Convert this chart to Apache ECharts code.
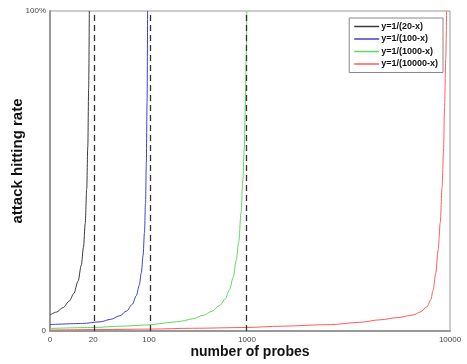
<!DOCTYPE html>
<html>
<head>
<meta charset="utf-8">
<script src="https://cdn.jsdelivr.net/npm/echarts@6/dist/echarts.min.js"></script>
<style>
  html, body { margin: 0; padding: 0; background: #fff; }
  #chart { width: 467px; height: 364px; }
</style>
</head>
<body>
<div id="chart"></div>
<script>
// x axis of the original is stretched piecewise between these ticks
var xTicks = [0, 20, 100, 1000, 10000];
var xTickFrac = [0, 0.108, 0.2475, 0.4925, 1];

var names = ['y=1/(20-x)', 'y=1/(100-x)', 'y=1/(1000-x)', 'y=1/(10000-x)'];
var colors = ['#3a3a3a', '#4040cc', '#5fd85f', '#ff5c5c'];

// values (y in %)
var blackX = [0, 3, 6, 9, 11, 13, 14.5, 15.5, 16.3, 17, 17.5, 17.9, 18.2];
var blackY = [5, 5.9, 7.3, 9.4, 11.7, 15.6, 20.6, 26.2, 33.5, 44.4, 57.7, 76, 100];
var blueX = [0, 15, 30, 45, 58, 68, 76, 82, 86, 89, 91.5, 93.5, 95, 96.2, 97.2, 98];
var blueY = [2, 2.35, 2.86, 3.64, 4.76, 6.25, 8.33, 11.1, 14.3, 18.2, 23.5, 30.8, 40, 52.6, 71.4, 100];
var greenX = [0, 20, 60, 100, 200, 300, 400, 500, 600, 680, 750, 800, 840, 875, 900, 925, 945, 962, 975, 986, 993, 998];
var greenY = [0.8, 1.1, 1.5, 1.9, 2.3, 2.7, 3.1, 3.8, 4.9, 6.2, 8, 10, 13, 17, 22, 28, 37, 47, 57, 72, 85, 100];
var redX = [0, 30, 110, 500, 1000, 2500, 4700, 6000, 6900, 7700, 8360, 8700, 8980, 9150, 9250, 9370, 9470, 9570, 9650, 9710, 9760, 9810, 9850];
var redY = [0.3, 0.45, 0.6, 0.85, 1.1, 1.5, 2, 2.7, 3.5, 4.2, 5, 6, 7.6, 9.8, 12.8, 18, 25, 34, 45, 56, 70, 85, 100];
var guideX = [20, 100, 1000];

function warp(x) {
    for (var i = 1; i < xTicks.length; i++) {
        if (x <= xTicks[i]) {
            var t = (x - xTicks[i - 1]) / (xTicks[i] - xTicks[i - 1]);
            return xTickFrac[i - 1] + t * (xTickFrac[i] - xTickFrac[i - 1]);
        }
    }
    return 1;
}

function pairs(xs, ys) {
    return xs.map(function (x, i) { return [warp(x), ys[i]]; });
}

var curves = [[blackX, blackY], [blueX, blueY], [greenX, greenY], [redX, redY]];
var font = 'Liberation Sans, Arial, sans-serif';

var chart = echarts.init(document.getElementById('chart'));

var series = curves.map(function (c, i) {
    return {
        name: names[i],
        type: 'line',
        data: pairs(c[0], c[1]),
        symbol: 'none',
        smooth: 0.3,
        smoothMonotone: 'x',
        lineStyle: { color: colors[i], width: 1 },
        itemStyle: { color: colors[i] },
        z: 3
    };
});

series[0].markLine = {
    silent: true,
    symbol: 'none',
    label: { show: false },
    lineStyle: { color: '#333', width: 1.3, type: [6, 4] },
    data: guideX.map(function (x) { return { xAxis: warp(x) }; })
};

chart.setOption({
    animation: false,
    textStyle: { fontFamily: font },
    grid: {
        left: 50, right: 17, top: 11, bottom: 33,
        outerBoundsMode: 'none',
        show: true, borderColor: '#999', borderWidth: 1
    },
    legend: {
        orient: 'vertical',
        right: 24,
        top: 18,
        data: names,
        icon: 'rect',
        itemWidth: 25,
        itemHeight: 1.5,
        itemGap: 3.5,
        padding: [4, 5, 4, 5],
        borderColor: '#888',
        borderWidth: 1,
        backgroundColor: '#fff',
        textStyle: { fontSize: 9, fontWeight: 'bold', color: '#111', padding: [0, 0, 0, -3] }
    },
    xAxis: {
        type: 'value',
        min: 0,
        max: 1,
        name: 'number of probes',
        nameLocation: 'middle',
        nameGap: 14,
        nameMoveOverlap: false,
        nameTextStyle: { fontSize: 14, fontWeight: 'bold', color: '#111' },
        axisLine: { lineStyle: { color: '#999', width: 2 } },
        axisTick: { show: false },
        splitLine: { show: false },
        axisLabel: {
            customValues: xTicks.map(warp),
            fontSize: 8,
            color: '#444',
            margin: 5,
            formatter: function (v) {
                var best = 0;
                xTicks.forEach(function (t, i) {
                    if (Math.abs(warp(t) - v) < Math.abs(warp(xTicks[best]) - v)) best = i;
                });
                return String(xTicks[best]);
            }
        }
    },
    yAxis: {
        type: 'value',
        min: 0,
        max: 100,
        interval: 100,
        name: 'attack hitting rate',
        nameLocation: 'middle',
        nameGap: 25,
        nameMoveOverlap: false,
        nameTextStyle: { fontSize: 15, fontWeight: 'bold', color: '#111', padding: [0, 0, 0, 20] },
        axisLine: { show: true, lineStyle: { color: '#999', width: 2 } },
        axisTick: { show: false },
        splitLine: { show: false },
        axisLabel: {
            fontSize: 8,
            color: '#444',
            margin: 4,
            formatter: function (v) { return v === 100 ? '100%' : '0'; }
        }
    },
    series: series
});
</script>
</body>
</html>
